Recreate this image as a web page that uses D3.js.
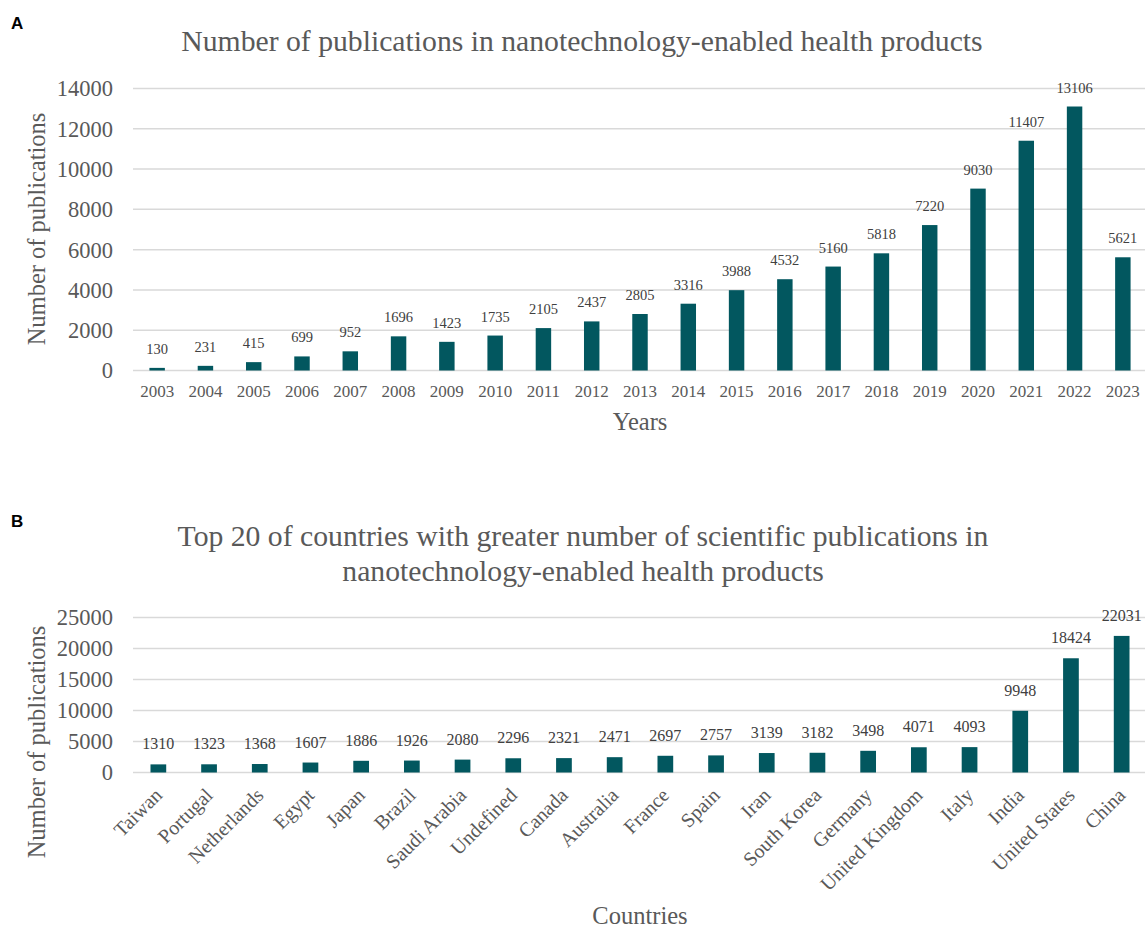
<!DOCTYPE html>
<html>
<head>
<meta charset="utf-8">
<script src="https://cdn.jsdelivr.net/npm/d3@7"></script>
<style>
  body { margin: 0; background: #fff; }
  svg text { font-family: "Liberation Serif", "Times New Roman", serif; }
</style>
</head>
<body>
<div id="chart"></div>
<script>
// ---- data ----
const years = ['2003','2004','2005','2006','2007','2008','2009','2010','2011','2012','2013',
  '2014','2015','2016','2017','2018','2019','2020','2021','2022','2023'];
const yearCounts = [130, 231, 415, 699, 952, 1696, 1423, 1735, 2105, 2437, 2805,
  3316, 3988, 4532, 5160, 5818, 7220, 9030, 11407, 13106, 5621];
const yTicksA = [0, 2000, 4000, 6000, 8000, 10000, 12000, 14000];

const countries = ['Taiwan','Portugal','Netherlands','Egypt','Japan','Brazil','Saudi Arabia',
  'Undefined','Canada','Australia','France','Spain','Iran','South Korea','Germany',
  'United Kingdom','Italy','India','United States','China'];
const countryCounts = [1310, 1323, 1368, 1607, 1886, 1926, 2080, 2296, 2321, 2471, 2697,
  2757, 3139, 3182, 3498, 4071, 4093, 9948, 18424, 22031];
const yTicksB = [0, 5000, 10000, 15000, 20000, 25000];

// ---- setup ----
const width = 1148, height = 929;
const barColor = '#02575f';
const gridColor = '#d9d9d9';
const textGray = '#595959';
const labelGray = '#404040';

const svg = d3.select('#chart').append('svg')
  .attr('width', width)
  .attr('height', height);

// panel letters
svg.append('text').attr('x', 11).attr('y', 29).text('A')
  .style('font-family', 'Liberation Sans, Arial, sans-serif')
  .style('font-weight', 'bold').style('font-size', '17px').attr('fill', '#000');
svg.append('text').attr('x', 11).attr('y', 527).text('B')
  .style('font-family', 'Liberation Sans, Arial, sans-serif')
  .style('font-weight', 'bold').style('font-size', '17px').attr('fill', '#000');

function drawPanel(opts) {
  const { cats, vals, ticks, yMax, top, bottom, labelSize, labelGap, rotate } = opts;
  const g = svg.append('g');

  const x = d3.scaleBand()
    .domain(cats)
    .range([133, 1147])
    .paddingInner(opts.pad)
    .paddingOuter(opts.pad / 2);

  const y = d3.scaleLinear().domain([0, yMax]).range([bottom, top]);

  // gridlines
  g.selectAll('.grid')
    .data(ticks)
    .enter().append('line')
    .attr('x1', 133).attr('x2', 1145)
    .attr('y1', d => y(d)).attr('y2', d => y(d))
    .attr('stroke', gridColor)
    .attr('stroke-width', 1.5);

  // y tick labels
  g.selectAll('.ytick')
    .data(ticks)
    .enter().append('text')
    .attr('x', 113)
    .attr('y', d => y(d))
    .attr('dy', '0.35em')
    .attr('text-anchor', 'end')
    .attr('fill', textGray)
    .style('font-size', '22.5px')
    .text(d => d);

  // bars
  g.selectAll('.bar')
    .data(cats)
    .enter().append('rect')
    .attr('x', d => x(d))
    .attr('width', x.bandwidth())
    .attr('y', (d, i) => y(vals[i]))
    .attr('height', (d, i) => y(0) - y(vals[i]))
    .attr('fill', barColor);

  // data labels
  g.selectAll('.dlabel')
    .data(cats)
    .enter().append('text')
    .attr('x', d => x(d) + x.bandwidth() / 2)
    .attr('y', (d, i) => y(vals[i]) - labelGap)
    .attr('text-anchor', 'middle')
    .attr('fill', labelGray)
    .style('font-size', labelSize)
    .text((d, i) => vals[i]);

  // x labels
  if (!rotate) {
    g.selectAll('.xlabel')
      .data(cats)
      .enter().append('text')
      .attr('x', d => x(d) + x.bandwidth() / 2)
      .attr('y', bottom + 26)
      .attr('text-anchor', 'middle')
      .attr('fill', textGray)
      .style('font-size', '17px')
      .text(d => d);
  } else {
    g.selectAll('.xlabel')
      .data(cats)
      .enter().append('text')
      .attr('transform', d => `translate(${x(d) + x.bandwidth() / 2 + 5},${bottom + 24}) rotate(-45)`)
      .attr('text-anchor', 'end')
      .attr('fill', textGray)
      .style('font-size', '20px')
      .text(d => d);
  }
  return g;
}

// ---- panel A ----
drawPanel({
  cats: years, vals: yearCounts, ticks: yTicksA, yMax: 14000,
  top: 88.5, bottom: 370.5, pad: 0.68, labelSize: '14.5px', labelGap: 14, rotate: false
});

svg.append('text')
  .attr('x', 582).attr('y', 51)
  .attr('text-anchor', 'middle')
  .attr('fill', textGray)
  .style('font-size', '29.7px')
  .text('Number of publications in nanotechnology-enabled health products');

svg.append('text')
  .attr('x', 640).attr('y', 430)
  .attr('text-anchor', 'middle')
  .attr('fill', textGray)
  .style('font-size', '24.5px')
  .text('Years');

svg.append('text')
  .attr('transform', 'translate(45,229) rotate(-90)')
  .attr('text-anchor', 'middle')
  .attr('fill', textGray)
  .style('font-size', '24.5px')
  .text('Number of publications');

// ---- panel B ----
drawPanel({
  cats: countries, vals: countryCounts, ticks: yTicksB, yMax: 25000,
  top: 617.5, bottom: 772.5, pad: 0.69, labelSize: '16px', labelGap: 15, rotate: true
});

svg.append('text')
  .attr('x', 583).attr('y', 546)
  .attr('text-anchor', 'middle')
  .attr('fill', textGray)
  .style('font-size', '29.7px')
  .text('Top 20 of countries with greater number of scientific publications in');
svg.append('text')
  .attr('x', 583).attr('y', 581)
  .attr('text-anchor', 'middle')
  .attr('fill', textGray)
  .style('font-size', '29.7px')
  .text('nanotechnology-enabled health products');

svg.append('text')
  .attr('x', 640).attr('y', 924)
  .attr('text-anchor', 'middle')
  .attr('fill', textGray)
  .style('font-size', '24.5px')
  .text('Countries');

svg.append('text')
  .attr('transform', 'translate(45,742) rotate(-90)')
  .attr('text-anchor', 'middle')
  .attr('fill', textGray)
  .style('font-size', '24.5px')
  .text('Number of publications');
</script>
</body>
</html>
